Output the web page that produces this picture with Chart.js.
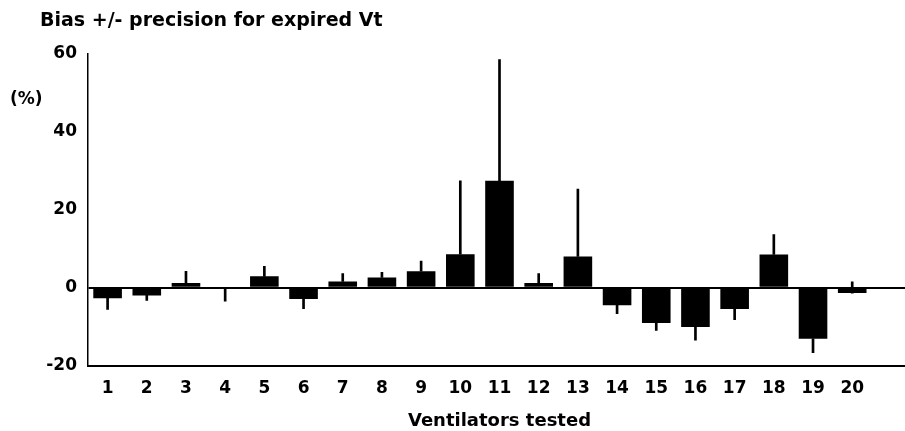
<!DOCTYPE html>
<html>
<head>
<meta charset="utf-8">
<script src="https://cdn.jsdelivr.net/npm/chart.js@4.4.1/dist/chart.umd.min.js"></script>
<style>
  html, body { margin: 0; padding: 0; background: #fff; overflow: hidden; }
  #wrap { width: 911px; height: 431px; }
</style>
</head>
<body>
<div id="wrap"><canvas id="biasChart" width="911" height="431"></canvas></div>
<script>
const ventilators = ["1", "2", "3", "4", "5", "6", "7", "8", "9", "10",
  "11", "12", "13", "14", "15", "16", "17", "18", "19", "20", ""];
const bias = [-2.7, -2.0, 1.2, 0, 2.9, -2.9, 1.6, 2.6, 4.2, 8.6,
  27.4, 1.2, 8.0, -4.5, -9.1, -10.1, -5.5, 8.5, -13.1, -1.4];
// end of the precision whisker for each ventilator
const precisionEnd = [-5.6, -3.3, 4.2, -3.5, 5.5, -5.4, 3.6, 3.9, 6.8, 27.4,
  58.5, 3.6, 25.3, -6.7, -11.0, -13.5, -8.2, 13.6, -16.7, 1.5];
const yTicks = [60, 40, 20, 0, -20];

const boldFont = "'DejaVu Sans', sans-serif";

const whiskers = bias.map((b, i) => [b, precisionEnd[i]]);

const unitLabel = {
  id: "unitLabel",
  afterDraw(chart) {
    const ctx = chart.ctx;
    ctx.save();
    ctx.font = "bold 17px " + boldFont;
    ctx.fillStyle = "#000";
    ctx.textAlign = "left";
    ctx.textBaseline = "middle";
    ctx.fillText("(%)", 10, 100);
    ctx.restore();
  },
};

new Chart(document.getElementById("biasChart"), {
  type: "bar",
  data: {
    labels: ventilators,
    datasets: [
      {
        label: "Bias",
        data: bias,
        backgroundColor: "#000",
        borderWidth: 0,
        barPercentage: 0.73,
        categoryPercentage: 1,
        grouped: false,
      },
      {
        label: "Precision",
        data: whiskers,
        backgroundColor: "#000",
        borderWidth: 0,
        barThickness: 2,
        grouped: false,
      },
    ],
  },
  options: {
    responsive: false,
    animation: false,
    layout: { padding: { left: 40, right: 0, top: 0, bottom: 0 } },
    plugins: {
      legend: { display: false },
      tooltip: { enabled: false },
      title: {
        display: true,
        text: "Bias +/- precision for expired Vt",
        align: "start",
        color: "#000",
        font: { family: boldFont, size: 19, weight: "bold" },
        padding: { top: 10, bottom: 21 },
      },
    },
    scales: {
      x: {
        grid: { display: true, color: "transparent", drawTicks: false },
        border: { display: true, color: "#000", width: 2 },
        ticks: {
          color: "#000",
          autoSkip: false,
          maxRotation: 0,
          padding: 13,
          font: { family: boldFont, size: 17, weight: "bold" },
        },
        title: {
          display: true,
          text: "Ventilators tested",
          color: "#000",
          font: { family: boldFont, size: 18, weight: "bold", lineHeight: 1 },
          padding: { top: 0, bottom: 1 },
        },
      },
      y: {
        min: -20,
        max: 60,
        afterBuildTicks: (axis) => {
          axis.ticks = yTicks.map((v) => ({ value: v }));
        },
        afterFit: (axis) => {
          axis.width = 48;
        },
        grid: {
          drawTicks: false,
          color: (c) => (c.tick && c.tick.value === 0 ? "#000" : "transparent"),
          lineWidth: 2,
        },
        border: { display: true, color: "#000", width: 1.5 },
        ticks: {
          color: "#000",
          padding: 11,
          font: { family: boldFont, size: 17, weight: "bold" },
        },
      },
    },
  },
  plugins: [unitLabel],
});
</script>
</body>
</html>
